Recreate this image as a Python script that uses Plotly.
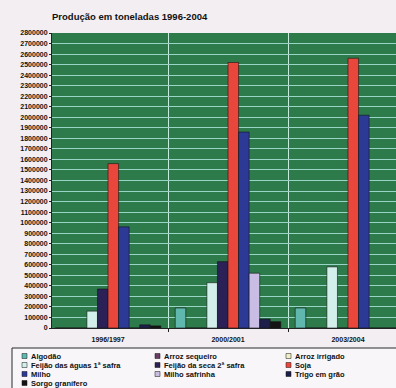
import plotly.graph_objects as go

# Safras por período (toneladas)
periods = ["1996/1997", "2000/2001", "2003/2004"]

culturas = [
    "Algodão", "Arroz sequeiro", "Arroz irrigado",
    "Feijão das águas 1ª safra", "Feijão da seca 2ª safra", "Soja",
    "Milho", "Milho safrinha", "Trigo em grão",
    "Sorgo granífero",
]

algodao = [0, 190000, 190000]
arroz_sequeiro = [0, 0, 0]
arroz_irrigado = [0, 0, 0]
feijao_aguas = [160000, 430000, 580000]
feijao_seca = [370000, 630000, 0]
soja = [1560000, 2520000, 2560000]
milho = [960000, 1860000, 2020000]
milho_safrinha = [0, 520000, 0]
trigo = [30000, 85000, 0]
sorgo = [20000, 60000, 0]

series = [algodao, arroz_sequeiro, arroz_irrigado, feijao_aguas, feijao_seca,
          soja, milho, milho_safrinha, trigo, sorgo]

cores = ["#5fb7ae", "#6b3a66", "#efeec6", "#d3efec", "#2b2157",
         "#e9473c", "#2c3a96", "#c9bde3", "#1d1f4a", "#141414"]

y_ticks = list(range(0, 2800001, 100000))

W, H = 396, 388
L, R, T, B = 52, 0, 33, 60
PW, PH = W - L - R, H - T - B


def px_x(x):
    return (x - L) / PW


def px_y(y):
    return (H - B - y) / PH


fig = go.Figure()
for nome, cor, valores in zip(culturas, cores, series):
    fig.add_bar(
        x=periods, y=valores, name=nome,
        marker=dict(color=cor, line=dict(color="#151515", width=0.6)),
    )

bold = dict(family="Liberation Sans, Arial, sans-serif", size=7, color="#111111", weight="bold")
legend_font = dict(bold, size=7.5)

fig.update_layout(
    width=W, height=H,
    margin=dict(l=L, r=R, t=T, b=B, pad=0),
    paper_bgcolor="#f2eef2",
    plot_bgcolor="#2d7a4b",
    barmode="group", bargap=0.12, bargroupgap=0,
    showlegend=False,
    title=dict(
        text="Produção em toneladas 1996-2004",
        x=L / W, xanchor="left", xref="container",
        y=1 - 17 / H, yanchor="middle", yref="container",
        font=dict(family="Liberation Sans, Arial, sans-serif", size=9.5,
                  color="#111111", weight="bold"),
    ),
    xaxis=dict(
        type="category", range=[-0.467, 2.4], tickson="boundaries",
        showgrid=True, gridcolor="#c6ecdb", gridwidth=1,
        ticks="outside", ticklen=3, tickcolor="#222222",
        ticklabelstandoff=5,
        showline=True, linecolor="#222222", linewidth=1,
        tickfont=bold,
    ),
    yaxis=dict(
        range=[0, 2800000], tickvals=y_ticks, tickformat="d",
        showgrid=True, gridcolor="#9ad4c6", gridwidth=1,
        ticks="outside", ticklen=2, tickcolor="#222222",
        showline=True, linecolor="#222222", linewidth=1,
        zeroline=False, tickfont=bold,
    ),
)

# Caixa da legenda
shapes = [dict(
    type="rect", xref="paper", yref="paper",
    x0=px_x(12), x1=px_x(402), y0=px_y(348), y1=px_y(396),
    fillcolor="#f8f6f8", line=dict(color="#2a2a2a", width=1), layer="below",
)]
annotations = []
col_x = [22, 155, 286]
row_y = [356, 365, 374, 383]
for i, (nome, cor) in enumerate(zip(culturas, cores)):
    cx = col_x[i % 3]
    cy = row_y[i // 3]
    shapes.append(dict(
        type="rect", xref="paper", yref="paper",
        x0=px_x(cx), x1=px_x(cx + 5), y0=px_y(cy + 2.5), y1=px_y(cy - 2.5),
        fillcolor=cor, line=dict(color="#151515", width=0.5),
    ))
    annotations.append(dict(
        text=nome, xref="paper", yref="paper",
        x=px_x(cx + 7), y=px_y(cy), xanchor="left", yanchor="middle",
        showarrow=False, font=legend_font,
    ))

fig.update_layout(shapes=shapes, annotations=annotations)

fig.write_html("out.html")
